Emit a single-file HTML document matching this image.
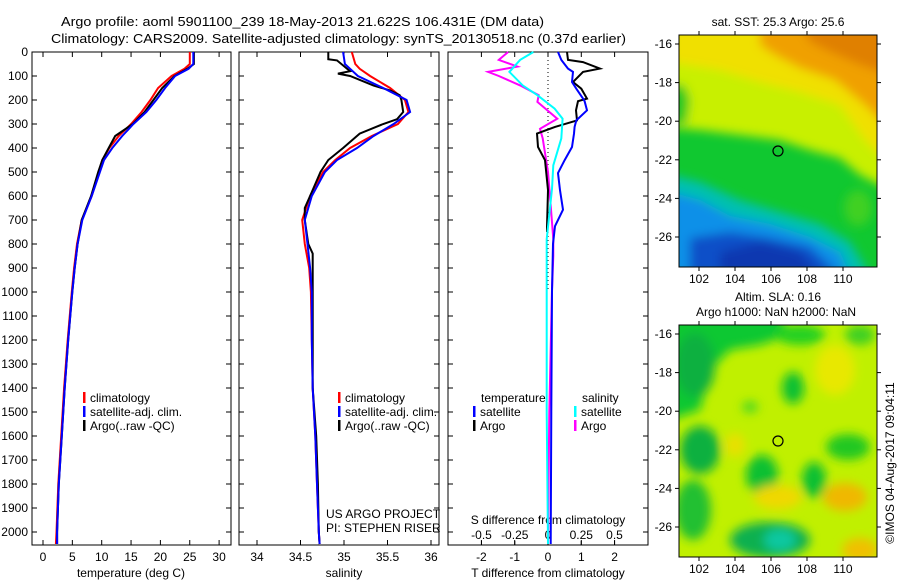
<!DOCTYPE html>
<html><head><meta charset="utf-8"><style>
html,body{margin:0;padding:0;background:#fff;}
svg{display:block;font-family:"Liberation Sans",sans-serif;}
text{fill:#000;}
</style></head><body>
<svg id="fig" width="900" height="580" viewBox="0 0 900 580" xmlns="http://www.w3.org/2000/svg">
<defs>
<filter id="blur6" x="-50%" y="-50%" width="200%" height="200%"><feGaussianBlur stdDeviation="5"/></filter>
<clipPath id="clipTop"><rect x="679" y="35" width="198" height="232"/></clipPath>
<clipPath id="clipBot"><rect x="679" y="325" width="198" height="232"/></clipPath>
</defs>
<text x="61" y="26" font-size="13" textLength="483" lengthAdjust="spacingAndGlyphs">Argo profile: aoml 5901100_239 18-May-2013 21.622S 106.431E (DM data)</text>
<text x="51" y="43" font-size="13" textLength="575" lengthAdjust="spacingAndGlyphs">Climatology: CARS2009. Satellite-adjusted climatology: synTS_20130518.nc (0.37d earlier)</text>

<g id="maps">
 <g clip-path="url(#clipTop)">
  <rect x="679" y="35" width="198" height="232" fill="#10c830"/>
  <g filter="url(#blur6)">
   <path d="M670,25 L890,25 L890,190 L860,175 L840,158 L810,150 L780,140 L740,135 L700,130 L670,128 Z" fill="#c8f000"/>
   <path d="M670,25 L890,25 L890,165 L865,140 L840,105 L800,92 L760,82 L720,70 L670,62 Z" fill="#f0e000"/>
   <path d="M760,25 L890,25 L890,130 L865,105 L835,80 L800,68 L775,55 L760,45 Z" fill="#f0a000"/>
   <path d="M800,25 L890,25 L890,75 L860,65 L830,52 L810,42 Z" fill="#e08000"/>
   <path d="M670,85 L684,85 L690,100 L686,125 L670,125 Z" fill="#20c820"/>
   <path d="M670,175 L700,182 L740,200 L780,212 L820,224 L850,242 L870,275 L670,275 Z" fill="#00c0b0"/>
   <path d="M670,192 L700,200 L730,216 L770,224 L810,237 L840,252 L850,275 L670,275 Z" fill="#1090e8"/>
   <path d="M690,238 L730,232 L770,238 L810,247 L840,275 L690,275 Z" fill="#1050c8"/>
   <path d="M720,252 L760,242 L800,252 L820,275 L720,275 Z" fill="#0838b0"/>
   <ellipse cx="858" cy="208" rx="14" ry="18" fill="#40d020"/>
  </g>
 </g>
 <rect x="679" y="35" width="198" height="232" fill="none" stroke="#000" stroke-width="1"/>
 <circle cx="778" cy="151" r="5" fill="none" stroke="#000" stroke-width="1.2"/>
 <text x="778" y="26" font-size="12" text-anchor="middle">sat. SST: 25.3 Argo: 25.6</text>

 <g clip-path="url(#clipBot)">
  <rect x="679" y="325" width="198" height="232" fill="#c0f000"/>
  <g filter="url(#blur6)">
   <path d="M670,315 L780,315 L790,335 L760,345 L730,350 L710,370 L700,410 L670,420 Z" fill="#10c830"/>
   <ellipse cx="695" cy="365" rx="20" ry="32" fill="#10b040"/>
   <ellipse cx="800" cy="335" rx="25" ry="10" fill="#20d020"/>
   <ellipse cx="860" cy="335" rx="15" ry="10" fill="#40d020"/>
   <ellipse cx="793" cy="388" rx="11" ry="16" fill="#10c030"/>
   <ellipse cx="700" cy="450" rx="20" ry="24" fill="#10b040"/>
   <ellipse cx="762" cy="475" rx="16" ry="20" fill="#10c030"/>
   <ellipse cx="814" cy="480" rx="12" ry="18" fill="#10c030"/>
   <ellipse cx="848" cy="447" rx="22" ry="13" fill="#20c820"/>
   <ellipse cx="750" cy="407" rx="8" ry="6" fill="#50d820"/>
   <ellipse cx="693" cy="510" rx="18" ry="30" fill="#20c030"/>
   <ellipse cx="770" cy="540" rx="40" ry="18" fill="#10b050"/>
   <ellipse cx="780" cy="540" rx="16" ry="11" fill="#10c8a0"/>
   <ellipse cx="778" cy="497" rx="24" ry="12" fill="#f0d800"/>
   <ellipse cx="845" cy="497" rx="22" ry="14" fill="#f0b800"/>
   <ellipse cx="860" cy="550" rx="18" ry="12" fill="#f0c000"/>
   <ellipse cx="835" cy="370" rx="20" ry="25" fill="#e8e800"/>
   <ellipse cx="735" cy="445" rx="10" ry="12" fill="#e8e000"/>
  </g>
 </g>
 <rect x="679" y="325" width="198" height="232" fill="none" stroke="#000" stroke-width="1"/>
 <circle cx="778" cy="441" r="5" fill="none" stroke="#000" stroke-width="1.2"/>
 <text x="778" y="301" font-size="12" text-anchor="middle">Altim. SLA: 0.16</text>
 <text x="776" y="316" font-size="12" text-anchor="middle">Argo h1000: NaN h2000: NaN</text>
 <text transform="translate(894,463) rotate(-90)" font-size="12" text-anchor="middle">©IMOS 04-Aug-2017 09:04:11</text>
</g>

<g id="axes"></g>
</svg>
<script>
// ---- data ----
const depthT = [0,50,70,100,150,200,250,300,350,400,450,500,600,700,800,900,1000,1200,1400,1600,1800,2000,2050];
const tempArgo = [25.7,25.7,24.6,22.4,20.3,18.8,17.3,15.3,12.3,11.2,10.1,9.4,8.2,6.6,5.9,5.4,5.0,4.3,3.7,3.2,2.7,2.4,2.4];
const tempClim = [25.0,25.0,24.1,21.9,19.6,18.3,16.8,15.0,12.9,11.3,10.1,9.5,8.3,6.6,5.8,5.3,4.9,4.2,3.6,3.1,2.6,2.3,2.2];
const tempSat = [25.6,25.6,24.8,22.5,20.8,19.3,17.6,15.4,13.5,11.8,10.4,9.7,8.3,6.7,5.9,5.4,5.0,4.3,3.7,3.2,2.7,2.4,2.4];
const depthSArgo = [0,30,35,80,90,100,140,160,180,200,250,280,300,340,400,450,500,600,650,700,800,840,1000,1200,1400,1600,1800,2000,2050];
const salArgo = [34.82,34.82,34.92,35.07,34.93,35.07,35.34,35.53,35.64,35.66,35.68,35.61,35.45,35.18,34.99,34.82,34.73,34.61,34.55,34.55,34.59,34.64,34.64,34.64,34.64,34.68,34.70,34.71,34.72];
const salClim = [35.09,35.13,35.18,35.30,35.53,35.70,35.74,35.62,35.32,35.07,34.90,34.76,34.61,34.52,34.55,34.60,34.62,34.63,34.64,34.67,34.69,34.71,34.72];
const salSat = [34.99,35.01,35.07,35.16,35.45,35.72,35.76,35.57,35.34,35.15,34.92,34.78,34.63,34.55,34.58,34.61,34.63,34.63,34.64,34.67,34.69,34.71,34.72];
const depthDTSat = [0,33,42,69,83,125,153,194,205,243,285,312,340,396,451,504,576,657,726,800,1000,1500,2050];
const dTSat = [0.3,0.4,0.45,0.6,0.75,0.72,0.85,1.05,1.1,1.17,0.85,0.8,0.78,0.72,0.5,0.3,0.36,0.45,0.21,0.15,0.12,0.1,0.08];
const depthDTArgo = [0,33,42,69,83,125,153,194,205,243,285,312,340,396,451,576,729,750];
const dTArgo = [0.57,0.6,1.05,1.56,1.05,0.75,1.0,1.17,0.9,0.84,0.87,0.21,-0.33,-0.3,-0.09,0,-0.03,-0.03];
const depthDSArgo = [0,33,61,83,100,139,180,208,278,320,360,500,640,780,850,990,1500,2050];
const dSArgo = [-0.3,-0.37,-0.23,-0.45,-0.37,-0.21,-0.07,-0.08,0.07,-0.06,-0.04,0,0.02,0.04,0.04,0.03,0.01,0];
const depthDSSat = [0,33,83,139,180,236,278,360,472,570,780,1500,2050];
const dSSat = [-0.11,-0.21,-0.29,-0.19,-0.08,0.05,0.11,0.10,0.04,0.03,-0.01,-0.01,0];
const depthTicks = [0,100,200,300,400,500,600,700,800,900,1000,1100,1200,1300,1400,1500,1600,1700,1800,1900,2000];
const tempTicks = [0,5,10,15,20,25,30];
const salTicks = [34,34.5,35,35.5,36];
const tDiffTicks = [-2,-1,0,1,2];
const sDiffTicks = [-0.5,-0.25,0,0.25,0.5];
const sDiffLabels = ['-0.5','-0.25','0','0.25','0.5'];
const lonTicks = [102,104,106,108,110];
const latTicks = [-16,-18,-20,-22,-24,-26];

// ---- scales ----
const NS = 'http://www.w3.org/2000/svg';
const root = document.getElementById('axes');
const Y = d => 52 + d * 0.24;
const TOP = 52, BOT = 545;
const xT = v => 43 + v * 5.87;
const xS = v => 257 + (v - 34) * 87;
const xTD = v => 548 + v * 33.3;
const xSD = v => 548 + v * 133;
const lonX = v => 699 + (v - 102) * 18;
const latY = v => 44 + (-16 - v) * 19.3;

function el(tag, attrs, parent) {
  const e = document.createElementNS(NS, tag);
  for (const k in attrs) e.setAttribute(k, attrs[k]);
  (parent || root).appendChild(e);
  return e;
}
function txt(s, x, y, anchor, size, name) {
  const t = el('text', {x: x, y: y, 'text-anchor': anchor || 'start', 'font-size': size || 12});
  t.textContent = s;
  
  
  return t;
}
function line(xs, ys, vals, color, name, w) {
  const pts = vals.map((v, i) => xs(v).toFixed(1) + ',' + Y(ys[i]).toFixed(1)).join(' ');
  const p = el('polyline', {points: pts, fill: 'none', stroke: color, 'stroke-width': w || 2, 'stroke-linejoin': 'miter'});
  
  
}
function panel(x0, x1, name, showDepthLabels) {
  const r = el('rect', {x: x0, y: TOP, width: x1 - x0, height: BOT - TOP, fill: 'none', stroke: '#000', 'stroke-width': 1});
  
  
  depthTicks.forEach(d => {
    el('line', {x1: x0, x2: x0 + 5, y1: Y(d), y2: Y(d), stroke: '#000'});
    el('line', {x1: x1 - 5, x2: x1, y1: Y(d), y2: Y(d), stroke: '#000'});
    if (showDepthLabels) txt(String(d), x0 - 4, Y(d) + 4, 'end', 12, 'depth-tick-label');
  });
}
function xticks(xs, ticks, labels, name) {
  ticks.forEach((v, i) => {
    el('line', {x1: xs(v), x2: xs(v), y1: TOP, y2: TOP + 5, stroke: '#000'});
    el('line', {x1: xs(v), x2: xs(v), y1: BOT - 5, y2: BOT, stroke: '#000'});
    txt(labels ? labels[i] : String(v), xs(v), 561, 'middle', 12, name);
  });
}
function legendEntry(x, y, color, label, name) {
  const s = el('rect', {x: x, y: y - 10, width: 2.5, height: 11, fill: color});
  
  
  txt(label, x + 7, y, 'start', 12, name);
}

// Panel 1: temperature
panel(32, 231, 'temperature-panel', true);
xticks(xT, tempTicks, null, 'temperature-tick-label');
txt('temperature (deg C)', 131, 577, 'middle', 12, 'temperature-axis-title');
line(xT, depthT, tempClim, '#ff0000', 'temperature-climatology-line');
line(xT, depthT, tempArgo, '#000000', 'temperature-argo-line');
line(xT, depthT, tempSat, '#0000ff', 'temperature-satellite-line');
legendEntry(83, 402, '#ff0000', 'climatology', 'legend-climatology');
legendEntry(83, 416, '#0000ff', 'satellite-adj. clim.', 'legend-satellite-adj');
legendEntry(83, 430, '#000000', 'Argo(..raw -QC)', 'legend-argo');

// Panel 2: salinity
panel(239, 439, 'salinity-panel', false);
xticks(xS, salTicks, null, 'salinity-tick-label');
txt('salinity', 344, 577, 'middle', 12, 'salinity-axis-title');
line(xS, depthT, salClim, '#ff0000', 'salinity-climatology-line');
line(xS, depthSArgo, salArgo, '#000000', 'salinity-argo-line');
line(xS, depthT, salSat, '#0000ff', 'salinity-satellite-line');
legendEntry(338, 402, '#ff0000', 'climatology', 'legend2-climatology');
legendEntry(338, 416, '#0000ff', 'satellite-adj. clim.', 'legend2-satellite-adj');
legendEntry(338, 430, '#000000', 'Argo(..raw -QC)', 'legend2-argo');
txt('US ARGO PROJECT', 326, 518, 'start', 12, 'project-credit');
txt('PI: STEPHEN RISER', 326, 532, 'start', 12, 'pi-credit');

// Panel 3: differences
panel(448, 648, 'difference-panel', false);
const z = el('line', {x1: xTD(0), x2: xTD(0), y1: TOP, y2: Y(1000), stroke: '#000', 'stroke-dasharray': '1,3'});


tDiffTicks.forEach(v => {
  el('line', {x1: xTD(v), x2: xTD(v), y1: BOT - 5, y2: BOT, stroke: '#000'});
  el('line', {x1: xTD(v), x2: xTD(v), y1: TOP, y2: TOP + 5, stroke: '#000'});
  txt(String(v), xTD(v), 561, 'middle', 12, 't-diff-tick-label');
});
sDiffTicks.forEach((v, i) => {
  el('line', {x1: xSD(v), x2: xSD(v), y1: BOT - 4, y2: BOT, stroke: '#000'});
  txt(sDiffLabels[i], xSD(v), 539, 'middle', 12, 's-diff-tick-label');
});
txt('S difference from climatology', 548, 524, 'middle', 12, 's-diff-axis-title');
txt('T difference from climatology', 548, 577, 'middle', 12, 't-diff-axis-title');
line(xSD, depthDSArgo, dSArgo, '#ff00ff', 'salinity-diff-argo-line');
line(xTD, depthDTArgo, dTArgo, '#000000', 'temperature-diff-argo-line');
line(xSD, depthDSSat, dSSat, '#00ffff', 'salinity-diff-satellite-line');
line(xTD, depthDTSat, dTSat, '#0000ff', 'temperature-diff-satellite-line');
txt('temperature', 481, 402, 'start', 12, 'legend3-temperature-header');
legendEntry(473, 416, '#0000ff', 'satellite', 'legend3-temp-satellite');
legendEntry(473, 430, '#000000', 'Argo', 'legend3-temp-argo');
txt('salinity', 582, 402, 'start', 12, 'legend3-salinity-header');
legendEntry(574, 416, '#00ffff', 'satellite', 'legend3-sal-satellite');
legendEntry(574, 430, '#ff00ff', 'Argo', 'legend3-sal-argo');

// Map axes
[[35, 267], [325, 557]].forEach((b, mi) => {
  lonTicks.forEach(v => {
    el('line', {x1: lonX(v), x2: lonX(v), y1: b[0] - 4, y2: b[0], stroke: '#000'});
    el('line', {x1: lonX(v), x2: lonX(v), y1: b[1], y2: b[1] + 4, stroke: '#000'});
    txt(String(v), lonX(v), b[1] + 16, 'middle', 12, 'map-lon-tick-label');
  });
  latTicks.forEach(v => {
    const yy = latY(v) + (mi ? 290 : 0);
    el('line', {x1: 675, x2: 679, y1: yy, y2: yy, stroke: '#000'});
    el('line', {x1: 877, x2: 881, y1: yy, y2: yy, stroke: '#000'});
    txt(String(v), 672, yy + 4, 'end', 12, 'map-lat-tick-label');
  });
});
</script>
</body></html>
